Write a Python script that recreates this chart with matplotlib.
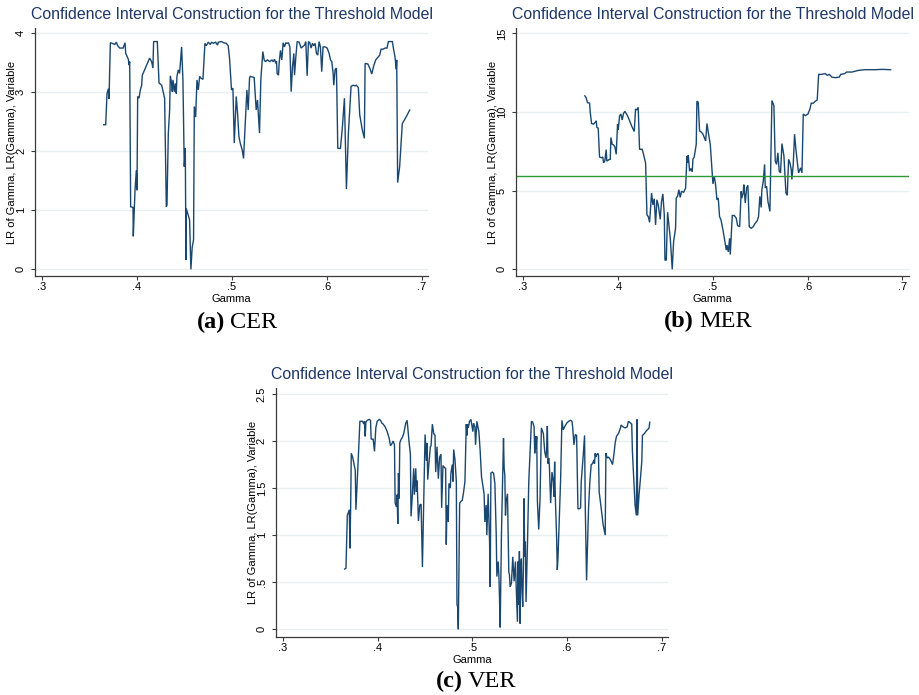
import matplotlib
matplotlib.use('Agg')
import matplotlib.pyplot as plt

# threshold grid (gamma) and likelihood-ratio values
cer_gamma = [0.3649, 0.3670, 0.3684, 0.3698, 0.3705, 0.3719, 0.3740, 0.3765, 0.3782, 0.3796,
             0.3818, 0.3853, 0.3874, 0.3881, 0.3909, 0.3916, 0.3923, 0.3933, 0.3958, 0.3961,
             0.3979, 0.3993, 0.4000, 0.4007, 0.4021, 0.4035, 0.4049, 0.4056, 0.4133, 0.4154,
             0.4168, 0.4175, 0.4214, 0.4232, 0.4260, 0.4291, 0.4309, 0.4316, 0.4330, 0.4344,
             0.4351, 0.4365, 0.4372, 0.4379, 0.4393, 0.4404, 0.4414, 0.4421, 0.4435, 0.4449,
             0.4470, 0.4484, 0.4498, 0.4509, 0.4516, 0.4519, 0.4554, 0.4568, 0.4582, 0.4596,
             0.4604, 0.4618, 0.4632, 0.4646, 0.4660, 0.4674, 0.4695, 0.4716, 0.4730, 0.4751,
             0.4772, 0.4786, 0.4807, 0.4828, 0.4849, 0.4856, 0.4891, 0.4912, 0.4940, 0.4961,
             0.4975, 0.4996, 0.5011, 0.5025, 0.5046, 0.5060, 0.5074, 0.5088, 0.5109, 0.5123,
             0.5144, 0.5158, 0.5172, 0.5186, 0.5193, 0.5235, 0.5256, 0.5270, 0.5291, 0.5305,
             0.5326, 0.5340, 0.5354, 0.5375,
             0.5400, 0.5421, 0.5435, 0.5449, 0.5463, 0.5470, 0.5477, 0.5491, 0.5498, 0.5512,
             0.5526, 0.5540, 0.5554, 0.5568, 0.5582, 0.5596, 0.5611, 0.5625, 0.5639, 0.5653,
             0.5660, 0.5674, 0.5688, 0.5709, 0.5730, 0.5744, 0.5765, 0.5779, 0.5793, 0.5807,
             0.5821, 0.5835, 0.5849, 0.5863, 0.5877, 0.5891, 0.5905, 0.5919, 0.5933, 0.5947,
             0.5961, 0.5982, 0.6004, 0.6025, 0.6039, 0.6053, 0.6067, 0.6074, 0.6088, 0.6102,
             0.6116, 0.6144, 0.6165, 0.6186, 0.6207, 0.6228, 0.6256, 0.6277, 0.6298, 0.6312,
             0.6333, 0.6347, 0.6375, 0.6396, 0.6404, 0.6432, 0.6453, 0.6474, 0.6495, 0.6516,
             0.6537, 0.6558, 0.6572, 0.6593, 0.6614, 0.6635, 0.6649, 0.6691, 0.6705, 0.6719,
             0.6733, 0.6737, 0.6747, 0.6768, 0.6796, 0.6839, 0.6874]
cer_lr = [2.45, 2.45, 2.98, 3.06, 2.89, 3.84, 3.83, 3.81, 3.85, 3.79,
          3.75, 3.75, 3.84, 3.66, 3.56, 3.46, 3.52, 1.06, 1.05, 0.56,
          1.34, 1.68, 1.34, 2.93, 2.90, 3.04, 3.12, 3.29, 3.58, 3.52,
          3.41, 3.86, 3.86, 3.16, 3.12, 2.90, 1.06, 1.09, 2.31, 2.70,
          3.28, 3.15, 3.01, 3.21, 3.01, 3.15, 2.98, 3.27, 3.38, 3.32,
          3.77, 3.21, 1.74, 2.05, 0.16, 1.03, 0.84, 0.00, 0.38, 0.50,
          2.76, 2.58, 3.21, 3.04, 3.27, 3.24, 3.22, 3.83, 3.79, 3.85,
          3.81, 3.85, 3.83, 3.85, 3.80, 3.85, 3.86, 3.84, 3.83, 3.79,
          3.58, 3.04, 3.07, 2.14, 2.93, 2.64, 2.25, 2.14, 2.02, 1.88,
          2.59, 3.04, 2.70, 3.24, 3.27, 3.25, 2.70, 2.87, 2.31, 3.21,
          3.69, 3.55, 3.52, 3.55,
          3.52, 3.55, 3.52, 3.56, 3.49, 3.53, 3.32, 3.29, 3.49, 3.71,
          3.55, 3.84, 3.77, 3.84, 3.83, 3.84, 3.77, 3.01, 3.44, 3.66,
          3.29, 3.60, 3.86, 3.85, 3.75, 3.77, 3.80, 3.86, 3.28, 3.86,
          3.84, 3.75, 3.83, 3.79, 3.83, 3.66, 3.63, 3.86, 3.77, 3.35,
          3.77, 3.77, 3.75, 3.66, 3.55, 3.52, 3.32, 3.12, 3.39, 3.41,
          2.05, 2.05, 2.42, 2.90, 1.36, 2.31, 3.10, 3.12, 3.11, 3.12,
          3.08, 2.62, 2.36, 2.22, 3.49, 3.48, 3.41, 3.31, 3.45, 3.55,
          3.59, 3.63, 3.73, 3.73, 3.75, 3.75, 3.86, 3.86, 3.72, 3.60,
          3.39, 3.55, 1.47, 1.74, 2.47, 2.59, 2.70]

mer_gamma = [0.3651, 0.3665, 0.3679, 0.3701, 0.3708, 0.3722, 0.3743, 0.3757, 0.3771, 0.3778,
             0.3792, 0.3806, 0.3827, 0.3841, 0.3848, 0.3862, 0.3876, 0.3883, 0.3905, 0.3919,
             0.3926, 0.3940, 0.3954, 0.3968, 0.3982, 0.3996, 0.4003, 0.4017, 0.4031, 0.4045,
             0.4059, 0.4073, 0.4095, 0.4116, 0.4144, 0.4172, 0.4186, 0.4200, 0.4214, 0.4228,
             0.4256, 0.4270, 0.4292, 0.4306, 0.4320, 0.4334, 0.4355, 0.4369, 0.4383, 0.4397,
             0.4411, 0.4425, 0.4446, 0.4460, 0.4474, 0.4489, 0.4496, 0.4510, 0.4524, 0.4538,
             0.4552, 0.4573, 0.4587, 0.4608, 0.4615, 0.4629, 0.4643, 0.4657, 0.4671, 0.4693,
             0.4714, 0.4728, 0.4735, 0.4742, 0.4756, 0.4770, 0.4784, 0.4791, 0.4805, 0.4826,
             0.4833, 0.4847, 0.4861, 0.4883, 0.4897, 0.4911, 0.4925, 0.4939, 0.4953, 0.4974,
             0.4988, 0.5002, 0.5016, 0.5030, 0.5044, 0.5058, 0.5072, 0.5087, 0.5108, 0.5129,
             0.5143, 0.5150, 0.5164, 0.5178, 0.5185, 0.5206, 0.5227, 0.5248, 0.5262, 0.5284,
             0.5300, 0.5307, 0.5321, 0.5328, 0.5343, 0.5357, 0.5371, 0.5385, 0.5406, 0.5427,
             0.5448, 0.5469, 0.5483, 0.5497, 0.5511, 0.5518, 0.5533, 0.5547, 0.5554, 0.5568,
             0.5582, 0.5603, 0.5624, 0.5645, 0.5659, 0.5673, 0.5687, 0.5701, 0.5715, 0.5730,
             0.5751, 0.5772, 0.5786, 0.5800, 0.5814, 0.5828, 0.5835, 0.5849, 0.5863, 0.5877,
             0.5891, 0.5905, 0.5927, 0.5941, 0.5955, 0.5976, 0.6004, 0.6025, 0.6039, 0.6060,
             0.6081, 0.6102, 0.6117, 0.6145, 0.6187, 0.6208, 0.6229, 0.6257, 0.6292, 0.6335,
             0.6349, 0.6391, 0.6412, 0.6468, 0.6539, 0.6609, 0.6715, 0.6785, 0.6876]
mer_lr = [11.03, 10.90, 10.60, 10.56, 9.98, 9.27, 9.23, 9.32, 9.44, 9.02,
          8.97, 7.14, 7.09, 7.14, 6.77, 6.88, 7.61, 6.88, 6.97, 6.99,
          8.38, 7.95, 7.91, 7.78, 7.31, 9.23, 8.85, 9.74, 9.87, 9.49,
          9.91, 10.04, 9.83, 9.55, 9.12, 8.76, 10.19, 10.13, 10.30, 7.63,
          7.63, 7.31, 6.75, 3.46, 3.35, 2.99, 4.85, 4.10, 4.49, 2.82,
          4.42, 4.10, 3.18, 4.32, 4.79, 3.46, 0.58, 0.58, 3.63, 2.82,
          1.97, 0.00, 1.75, 2.61, 4.53, 4.64, 5.06, 4.57, 4.96, 4.89,
          5.17, 7.20, 6.77, 7.26, 6.24, 6.41, 6.20, 6.99, 7.14, 7.95,
          10.68, 10.62, 8.80, 8.70, 8.59, 8.38, 8.16, 9.27, 8.70, 7.95,
          6.67, 5.43, 5.92, 5.38, 4.42, 4.53, 3.35, 3.14, 2.50, 1.75,
          1.22, 1.54, 1.11, 1.97, 0.94, 3.42, 3.42, 3.25, 2.78, 2.71,
          4.96, 4.53, 4.85, 5.38, 4.21, 5.17, 5.34, 2.71, 2.61, 2.71,
          2.93, 3.08, 3.35, 4.64, 3.93, 5.06, 5.60, 6.67, 5.17, 5.28,
          4.32, 3.68, 10.73, 10.41, 6.88, 6.67, 7.41, 6.24, 6.13, 7.99,
          7.20, 4.85, 4.70, 6.99, 6.77, 6.35, 5.71, 6.67, 8.59, 7.63,
          6.88, 6.13, 6.45, 6.13, 9.87, 9.77, 9.87, 10.19, 10.56, 10.56,
          10.68, 10.77, 12.39, 12.39, 12.44, 12.33, 12.39, 12.22, 12.18, 12.22,
          12.39, 12.44, 12.54, 12.54, 12.65, 12.69, 12.69, 12.71, 12.69]
mer_crit = 5.94

ver_gamma = [0.3653, 0.3667, 0.3681, 0.3695, 0.3702, 0.3709, 0.3716, 0.3723, 0.3737, 0.3751,
             0.3765, 0.3772, 0.3786, 0.3800, 0.3814, 0.3828, 0.3842, 0.3856, 0.3863, 0.3870,
             0.3877, 0.3891, 0.3912, 0.3926, 0.3933, 0.3954, 0.3968, 0.3982, 0.3996, 0.4018,
             0.4032, 0.4046, 0.4060, 0.4081, 0.4102, 0.4123, 0.4137, 0.4151, 0.4165, 0.4179,
             0.4186, 0.4200, 0.4207, 0.4214, 0.4221, 0.4228, 0.4235, 0.4249, 0.4263, 0.4277,
             0.4298, 0.4312, 0.4319, 0.4333, 0.4347, 0.4354, 0.4368, 0.4382, 0.4389, 0.4404,
             0.4411, 0.4418, 0.4432, 0.4446, 0.4460, 0.4467, 0.4474, 0.4488, 0.4502, 0.4516,
             0.4523, 0.4530, 0.4544, 0.4558, 0.4565, 0.4579, 0.4593, 0.4607, 0.4614, 0.4628,
             0.4642, 0.4656, 0.4670, 0.4677, 0.4691, 0.4705,
             0.4719, 0.4726, 0.4733, 0.4747, 0.4754, 0.4768, 0.4775, 0.4789, 0.4797, 0.4804,
             0.4818, 0.4832, 0.4839, 0.4846, 0.4853, 0.4867, 0.4881, 0.4895, 0.4909, 0.4923,
             0.4930, 0.4937, 0.4944, 0.4951, 0.4958, 0.4972, 0.4986, 0.5000, 0.5007, 0.5014,
             0.5028, 0.5035, 0.5049, 0.5063, 0.5070, 0.5084, 0.5098, 0.5112, 0.5126, 0.5133,
             0.5147, 0.5154, 0.5168, 0.5183, 0.5190, 0.5197, 0.5211, 0.5225, 0.5239, 0.5253,
             0.5260, 0.5274, 0.5281, 0.5288, 0.5295, 0.5309, 0.5323, 0.5330, 0.5337, 0.5344,
             0.5351, 0.5358, 0.5372, 0.5386, 0.5393, 0.5400, 0.5414, 0.5428, 0.5442, 0.5456,
             0.5463, 0.5477, 0.5484, 0.5491, 0.5498, 0.5505, 0.5512, 0.5519, 0.5526, 0.5533,
             0.5540, 0.5547, 0.5554, 0.5561, 0.5568, 0.5583, 0.5597, 0.5611, 0.5625, 0.5639,
             0.5653, 0.5660, 0.5667, 0.5674, 0.5681, 0.5688, 0.5702, 0.5716, 0.5730, 0.5751,
             0.5765,
             0.5779, 0.5786, 0.5793, 0.5800, 0.5807, 0.5814, 0.5828, 0.5842, 0.5856, 0.5863,
             0.5870, 0.5877, 0.5891, 0.5898, 0.5905, 0.5919, 0.5933, 0.5947, 0.5961, 0.5975,
             0.5997, 0.6018, 0.6039, 0.6053, 0.6060, 0.6074, 0.6088, 0.6102, 0.6116, 0.6130,
             0.6144, 0.6151, 0.6172, 0.6186, 0.6193, 0.6207, 0.6214, 0.6228, 0.6242, 0.6256,
             0.6270, 0.6284, 0.6291, 0.6298, 0.6305, 0.6312, 0.6326, 0.6333, 0.6340, 0.6361,
             0.6382, 0.6404, 0.6411, 0.6425, 0.6439, 0.6460, 0.6481, 0.6495, 0.6509, 0.6523,
             0.6544, 0.6565, 0.6572, 0.6593, 0.6614, 0.6635, 0.6649, 0.6663, 0.6684, 0.6691,
             0.6719, 0.6733, 0.6740, 0.6747, 0.6761, 0.6775, 0.6790, 0.6797, 0.6818, 0.6839,
             0.6860, 0.6867, 0.6874]
ver_lr = [0.64, 0.65, 1.21, 1.25, 1.27, 0.86, 1.27, 1.87, 1.83, 1.76,
          1.69, 1.27, 1.57, 1.89, 2.21, 2.21, 2.21, 2.18, 2.21, 2.05,
          2.20, 2.22, 2.23, 2.22, 2.02, 2.02, 1.89, 2.14, 2.21, 2.23,
          2.22, 2.19, 2.18, 2.15, 2.10, 2.03, 1.95, 1.97, 2.00, 1.96,
          1.34, 1.30, 1.43, 1.12, 1.66, 1.39, 1.98, 2.02, 2.04, 2.08,
          2.19, 2.22, 2.15, 1.99, 1.86, 1.20, 1.43, 1.71, 1.43, 1.71,
          1.46, 1.58, 1.15, 1.32, 1.33, 1.00, 0.66, 1.36, 2.07, 1.79,
          1.98, 1.59, 1.78, 1.94, 1.95, 2.18, 2.08, 2.06, 1.67, 1.94,
          1.60, 1.83, 1.86, 1.29, 1.74, 1.72,
          1.71, 0.90, 1.32, 1.14, 1.55, 1.50, 1.66, 1.75, 1.57, 1.91,
          1.80, 1.57, 0.26, 0.24, 0.00, 1.34, 1.36, 1.37, 1.46, 1.57,
          1.89, 2.18, 2.06, 2.18, 2.14, 2.21, 2.23, 2.14, 2.10, 2.19,
          2.15, 1.96, 2.21, 2.14, 2.10, 1.89, 1.62, 1.53, 1.43, 1.14,
          1.32, 1.00, 1.44, 0.93, 0.45, 1.66, 1.67, 1.66, 1.55, 1.02,
          0.56, 0.72, 0.58, 0.33, 0.02, 1.04, 1.71, 2.03, 1.71, 1.64,
          1.21, 1.36, 1.44, 0.61, 0.58, 0.45, 0.49, 0.77, 0.51, 0.72,
          0.49, 0.08, 0.72, 0.26, 0.83, 0.06, 0.67, 0.75, 0.40, 0.24,
          0.63, 1.39, 0.77, 0.93, 0.29, 0.90, 1.57, 1.89, 2.21, 2.20,
          2.15, 1.87, 2.05, 1.92, 2.05, 1.36, 1.06, 1.39, 2.14, 2.08,
          1.89,
          1.82, 1.92, 2.16, 1.76, 1.82, 1.75, 1.34, 1.67, 1.57, 1.41,
          1.78, 1.41, 0.97, 0.63, 0.75, 1.16, 1.59, 2.22, 2.12, 2.15,
          2.19, 2.21, 2.22, 2.21, 2.15, 1.96, 2.07, 2.06, 1.28, 1.28,
          1.29, 1.57, 1.85, 2.06, 1.32, 0.52, 0.79, 1.29, 1.57, 1.75,
          1.76, 1.80, 1.76, 1.87, 1.83, 1.85, 1.87, 1.85, 1.46, 1.29,
          1.11, 1.00, 1.87, 1.82, 1.83, 1.80, 1.75, 1.85, 1.98, 2.05,
          2.08, 2.14, 2.17, 2.15, 2.14, 2.15, 2.21, 2.20, 2.18, 1.89,
          1.32, 1.21, 2.23, 1.21, 1.43, 1.59, 1.78, 2.06, 2.08, 2.11,
          2.13, 2.14, 2.20]

x_ticks = [0.3, 0.4, 0.5, 0.6, 0.7]
x_ticklabels = ['.3', '.4', '.5', '.6', '.7']

TITLE = 'Confidence Interval Construction for the Threshold Model'
YLABEL = 'LR of Gamma, LR(Gamma), Variable'

W, H = 919, 695
NAVY = '#1a476f'
TITLE_COL = '#1f3868'
GRID = '#e8eff1'
SPINE = '#3a3a3a'
SANS = 'Liberation Sans'
SERIF = 'Liberation Serif'

fig = plt.figure(figsize=(W / 100, H / 100), dpi=100)
fig.patch.set_facecolor('white')


def fx(x):
    return x / W


def fy(y):
    return 1 - y / H


def panel(box, gx, lr, ylim, yticks, yticklabels, letter, name, cap_split, cap_base):
    left, top, right, bottom = box
    ax = fig.add_axes([fx(left), fy(bottom), (right - left) / W, (bottom - top) / H])
    ax.plot(gx, lr, color=NAVY, lw=1.0, solid_joinstyle='miter')
    ax.set_xlim(0.2925, 0.707)
    ax.set_ylim(*ylim)
    ax.set_xticks(x_ticks)
    ax.set_xticklabels(x_ticklabels, fontsize=8, family=SANS)
    ax.set_yticks(yticks)
    ax.set_yticklabels(yticklabels, fontsize=8, family=SANS, rotation=90, va='center')
    ax.yaxis.grid(True, color=GRID, lw=1.0)
    ax.set_axisbelow(True)
    for s in ['top', 'right']:
        ax.spines[s].set_visible(False)
    for s in ['left', 'bottom']:
        ax.spines[s].set_color(SPINE)
        ax.spines[s].set_linewidth(0.9)
    ax.tick_params(axis='both', direction='out', length=3, width=0.8, color=SPINE)
    ax.tick_params(axis='x', pad=1.5)
    ax.tick_params(axis='y', pad=3.5)

    cx = (left + right) / 2
    fig.text(fx(cx), fy(top - 8.7), TITLE, ha='center', va='baseline',
             fontsize=11.4, color=TITLE_COL, family=SANS)
    fig.text(fx(left - 23), fy((top + bottom) / 2), YLABEL, ha='center', va='center',
             rotation=90, fontsize=8, color='black', family=SANS)
    fig.text(fx(cx), fy(bottom + 26.5), 'Gamma', ha='center', va='baseline',
             fontsize=8, color='black', family=SANS)
    fig.text(fx(cap_split - 2), fy(cap_base), letter, ha='right', va='baseline',
             fontsize=17.5, fontweight='bold', family=SERIF)
    fig.text(fx(cap_split + 3), fy(cap_base), name, ha='left', va='baseline',
             fontsize=17.5, family=SERIF)
    return ax


ax_a = panel((35, 28, 428.3, 276), cer_gamma, cer_lr, (-0.113, 4.09),
             [0, 1, 2, 3, 4], ['0', '1', '2', '3', '4'], '(a)', 'CER', 227, 328)

ax_b = panel((516, 28, 909, 276), mer_gamma, mer_lr, (-0.426, 15.34),
             [0, 5, 10, 15], ['0', '5', '10', '15'], '(b)', 'MER', 696, 327)
ax_b.axhline(mer_crit, color='#2e9a35', lw=1.0)

ax_c = panel((275.7, 387.7, 668.3, 636.7), ver_gamma, ver_lr, (-0.079, 2.567),
             [0, 0.5, 1, 1.5, 2, 2.5], ['0', '.5', '1', '1.5', '2', '2.5'], '(c)', 'VER', 465, 687)

fig.savefig('out.png', dpi=100)
